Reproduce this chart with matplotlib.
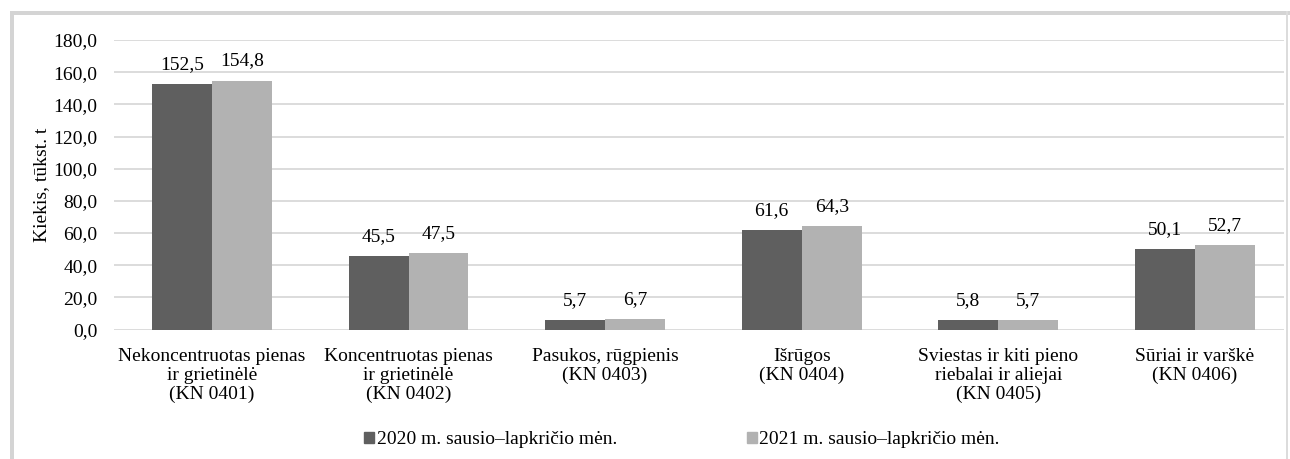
import matplotlib
matplotlib.use("Agg")
import matplotlib.pyplot as plt
from matplotlib.patches import Rectangle
import numpy as np

categories = [
    "Nekoncentruotas pienas\nir grietinėlė\n(KN 0401)",
    "Koncentruotas pienas\nir grietinėlė\n(KN 0402)",
    "Pasukos, rūgpienis\n(KN 0403)",
    "Išrūgos\n(KN 0404)",
    "Sviestas ir kiti pieno\nriebalai ir aliejai\n(KN 0405)",
    "Sūriai ir varškė\n(KN 0406)",
]
series_names = ["2020 m. sausio–lapkričio mėn.", "2021 m. sausio–lapkričio mėn."]
values_2020 = [152.5, 45.5, 5.7, 61.6, 5.8, 50.1]
values_2021 = [154.8, 47.5, 6.7, 64.3, 5.7, 52.7]
yticks = [0, 20, 40, 60, 80, 100, 120, 140, 160, 180]

plt.rcParams['font.family'] = ['Liberation Serif', 'DejaVu Serif']
FS = 14

W, H = 1290, 459
fig = plt.figure(figsize=(W / 100, H / 100), dpi=100)

# frame
fig.add_artist(Rectangle((10 / W, 0), 4 / W, (H - 11) / H, transform=fig.transFigure,
                         color="#d4d4d4", lw=0))
fig.add_artist(Rectangle((10 / W, (H - 15) / H), (W - 10) / W, 4 / H, transform=fig.transFigure,
                         color="#d4d4d4", lw=0))
fig.add_artist(Rectangle((1286 / W, 0), 1.5 / W, (H - 11) / H, transform=fig.transFigure,
                         color="#dcdcdc", lw=0))

left, right, top, bottom = 114, 1284, 40, 329.5
ax = fig.add_axes([left / W, 1 - bottom / H, (right - left) / W, (bottom - top) / H])

x = np.arange(len(categories))
bw = 0.305
c1, c2 = "#5f5f5f", "#b2b2b2"
b1 = ax.bar(x - bw / 2, values_2020, bw, color=c1, label=series_names[0], zorder=3)
b2 = ax.bar(x + bw / 2, values_2021, bw, color=c2, label=series_names[1], zorder=3)

def fmt(v):
    return f"{v:.1f}".replace(".", ",")

for bars, vals in ((b1, values_2020), (b2, values_2021)):
    for rect, v in zip(bars, vals):
        ax.annotate(fmt(v), (rect.get_x() + rect.get_width() / 2, v), xytext=(0, 8),
                    textcoords="offset points", ha="center", va="bottom",
                    fontsize=FS, color="#000000", zorder=4)

ax.set_ylim(0, 180)
ax.set_xlim(-0.498, 5.453)
ax.set_yticks(yticks)
ax.set_yticklabels([fmt(v) for v in yticks], fontsize=FS)
ax.set_xticks(x)
ax.set_xticklabels(categories, fontsize=FS, linespacing=1.15)
ax.tick_params(axis="both", length=0)
ax.tick_params(axis="y", pad=12)
ax.tick_params(axis="x", pad=13)
for s in ax.spines.values():
    s.set_visible(False)
ax.grid(axis="y", color="#d9d9d9", lw=1.3, zorder=0)
ax.set_axisbelow(True)
ax.set_ylabel("Kiekis, tūkst. t", fontsize=FS, labelpad=2)

handles = [Rectangle((0, 0), 1, 1, color=c1), Rectangle((0, 0), 1, 1, color=c2)]
fig.legend(handles, series_names, loc="center", bbox_to_anchor=(682 / W, 1 - 440 / H),
           ncol=2, frameon=False, fontsize=FS, handlelength=0.5, handleheight=0.5,
           handletextpad=0.12, columnspacing=6.7)

fig.savefig("out.png", dpi=100)
